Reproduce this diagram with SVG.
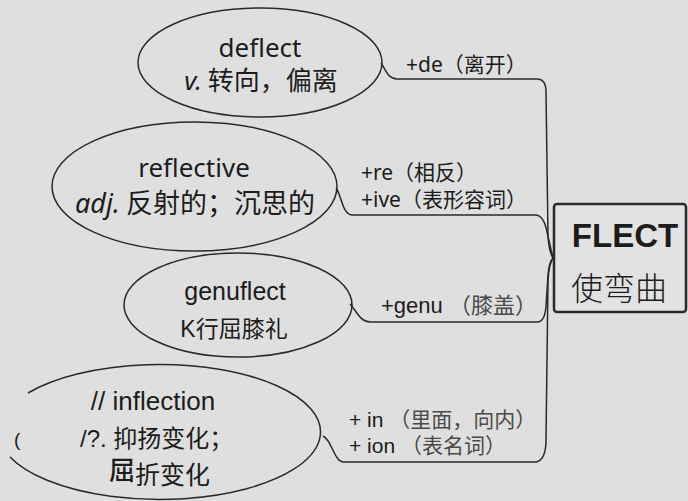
<svg xmlns="http://www.w3.org/2000/svg" width="688" height="501" viewBox="0 0 688 501">
<style>
.bg{fill:#dfdfdf}
.node{fill:none;stroke:#2a2a2a;stroke-width:1.5}
.conn{fill:none;stroke:#2a2a2a;stroke-width:1.5}
.t{fill:#1c1c1c;font-family:"Noto Sans","Noto Sans CJK SC",sans-serif}
.a{fill:#1c1c1c;font-family:"Liberation Sans","Noto Sans CJK SC",sans-serif}
.cjk{font-family:"Noto Sans CJK SC",sans-serif}
.g{fill:#4a4a4a;font-family:"Noto Sans CJK SC",sans-serif}
</style>
<rect class="bg" x="0" y="0" width="688" height="501"/>

<g id="connectors">
<path class="conn" d="M381 63 C386 70 388 79 397 79 L537 79 Q546 79 546 92 L548 236 Q549 252 553 258"/>
<path class="conn" d="M336 188 C342 196 342 215 353 215 L536 215 Q544 216 547 232 L553 258"/>
<path class="conn" d="M350 304 C356 310 360 322 370 322 L538 322 Q545 321 546 306 L548 275 Q549 262 553 258"/>
<path class="conn" d="M323 436 C332 440 334 462 344 462 L536 462 Q546 460 546 440 L548 280 Q549 264 553 258"/>
</g>

<g id="deflect">
<ellipse class="node" cx="260" cy="62.5" rx="122" ry="54.5"/>
<text class="t" x="260" y="57" font-size="26" text-anchor="middle">deflect</text>
<text class="t" x="261" y="90" font-size="26" text-anchor="middle"><tspan font-style="italic">v.</tspan><tspan class="cjk"> 转向，偏离</tspan></text>
</g>

<g id="reflective">
<ellipse class="node" cx="194.5" cy="186.5" rx="142.5" ry="64.5"/>
<text class="t" x="194" y="177" font-size="26" text-anchor="middle">reflective</text>
<text class="t" x="195" y="213" font-size="27" text-anchor="middle"><tspan font-style="italic">adj.</tspan><tspan class="cjk"> 反射的；沉思的</tspan></text>
</g>

<g id="genuflect">
<ellipse class="node" cx="238" cy="305" rx="114" ry="52"/>
<text class="a" x="235" y="300" font-size="25" text-anchor="middle">genuflect</text>
<text class="a" x="234" y="337" font-size="23" text-anchor="middle">K<tspan class="cjk">行屈膝礼</tspan></text>
</g>

<g id="inflection">
<path class="node" d="M28 393 A161 67.5 0 1 1 10 457"/>
<text class="a" x="153" y="410" font-size="26" text-anchor="middle">// inflection</text>
<text class="a" x="80" y="447" font-size="24">/?. <tspan class="cjk">抑扬变化；</tspan></text>
<text class="a" x="14" y="446" font-size="19" font-weight="300">(</text>
<text class="cjk" x="109" y="480" font-size="26" fill="#1c1c1c" font-weight="500">屈</text>
<text class="cjk" x="135" y="484" font-size="25" fill="#1c1c1c">折变化</text>
</g>

<g id="flect">
<rect x="554" y="204" width="132" height="108" rx="3" fill="#e2e2e2" stroke="#2a2a2a" stroke-width="2.5"/>
<text class="a" x="625" y="247" font-size="33" font-weight="bold" text-anchor="middle">FLECT</text>
<text class="cjk" x="619" y="300" font-size="32" fill="#1c1c1c" font-weight="300" text-anchor="middle">使弯曲</text>
</g>

<g id="labels">
<text class="t" x="406" y="72" font-size="21">+de<tspan class="cjk">（离开）</tspan></text>
<text class="t" x="361" y="180" font-size="21">+re<tspan class="cjk">（相反）</tspan></text>
<text class="t" x="361" y="207" font-size="21">+ive<tspan class="cjk">（表形容词）</tspan></text>
<text class="a" x="381" y="313" font-size="22">+genu <tspan class="g" font-size="22">（膝盖）</tspan></text>
<text class="a" x="349" y="427" font-size="21">+ in <tspan class="g" font-size="21">（里面，向内）</tspan></text>
<text class="a" x="349" y="453" font-size="21">+ ion <tspan class="g" font-size="21">（表名词）</tspan></text>
</g>
</svg>
